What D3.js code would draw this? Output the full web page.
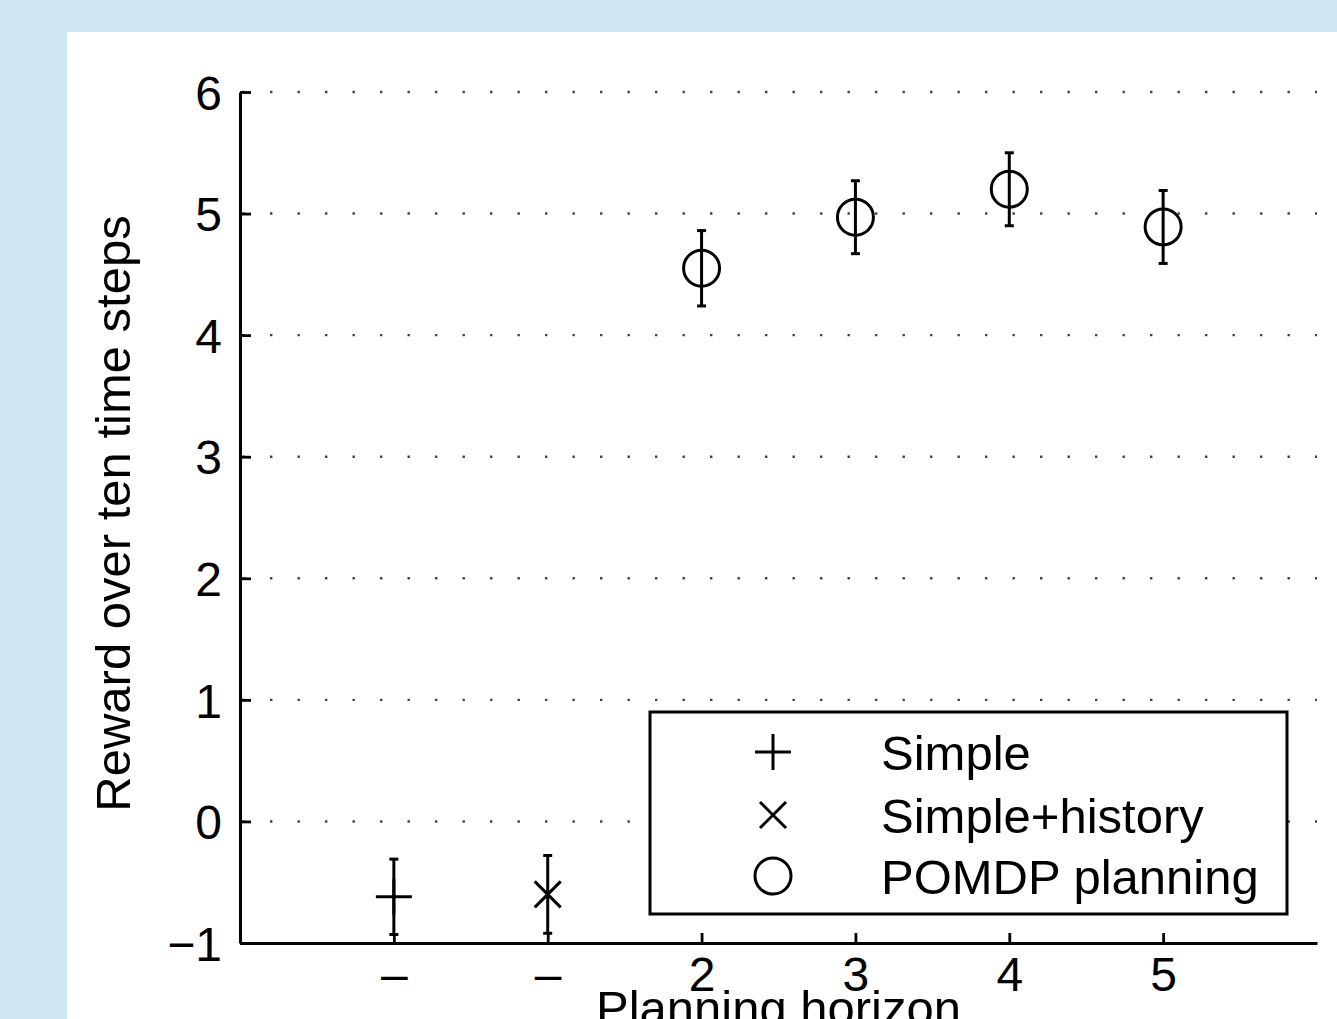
<!DOCTYPE html>
<html lang="en">
<head>
	<meta charset="UTF-8">
	<title>Reward vs planning horizon</title>
	<script src="https://cdn.jsdelivr.net/npm/d3@7"></script>
	<style>
		html, body { margin: 0; padding: 0; background: #cfe5f2; }
		text { font-family: "Liberation Sans", Arial, Helvetica, sans-serif; fill: #000; }
	</style>
</head>
<body>
	<div id="vis"></div>

	<script>
		// data
		var xLabels = ["\u2013", "\u2013", "2", "3", "4", "5"];
		var yTicks = [-1, 0, 1, 2, 3, 4, 5, 6];
		var seriesNames = ["Simple", "Simple+history", "POMDP planning"];

		var simpleX = [0];
		var simpleMean = [-0.62];
		var simpleErr = [0.31];

		var historyX = [1];
		var historyMean = [-0.60];
		var historyErr = [0.32];

		var pomdpX = [2, 3, 4, 5];
		var pomdpMean = [4.55, 4.97, 5.20, 4.89];
		var pomdpErr = [0.31, 0.30, 0.30, 0.30];

		var width = 1337;
		var height = 1019;

		// plot box (note: "top" is reserved on window, so use plot* names)
		var plotLeft = 240, plotRight = 1317, plotTop = 92, plotBottom = 943;

		var svg = d3.select("#vis").append("svg")
			.attr("width", width)
			.attr("height", height)
			.style("display", "block");

		// backdrop and white panel
		svg.append("rect").attr("width", width).attr("height", height).attr("fill", "#cfe5f2");
		svg.append("rect").attr("x", 67).attr("y", 32)
			.attr("width", width - 67).attr("height", height - 32).attr("fill", "#fff");

		var x = d3.scalePoint()
			.domain(d3.range(xLabels.length))
			.range([plotLeft, plotRight])
			.padding(1);

		var y = d3.scaleLinear()
			.domain([-1, 6])
			.range([plotBottom, plotTop]);

		// dotted grid
		svg.append("g")
			.selectAll("line")
			.data(yTicks.filter(function(d) { return d > -1; }))
			.join("line")
				.attr("x1", plotLeft)
				.attr("x2", plotRight)
				.attr("y1", function(d) { return y(d); })
				.attr("y2", function(d) { return y(d); })
				.attr("stroke", "#444")
				.attr("stroke-width", 2.4)
				.attr("stroke-dasharray", "2.4,25.1")
				.attr("stroke-dashoffset", -2.5);

		// axes
		var yAxis = svg.append("g")
			.attr("transform", "translate(" + plotLeft + ",0)")
			.call(d3.axisLeft(y).tickValues(yTicks).tickSize(-11).tickSizeOuter(0)
				.tickPadding(18)
				.tickFormat(function(d) { return d < 0 ? "\u2212" + Math.abs(d) : d; }));

		var xAxis = svg.append("g")
			.attr("transform", "translate(0," + plotBottom + ")")
			.call(d3.axisBottom(x).tickSize(-10).tickSizeOuter(0)
				.tickFormat(function(i) { return xLabels[i]; }));

		[yAxis, xAxis].forEach(function(g) {
			g.select(".domain").attr("stroke", "#000").attr("stroke-width", 3);
			g.selectAll(".tick line").attr("stroke", "#000").attr("stroke-width", 2.8);
			g.selectAll(".tick text").attr("font-size", 48).attr("fill", "#000")
				.style("font-family", "'Liberation Sans', Arial, sans-serif");
		});
		yAxis.selectAll(".tick text").attr("dy", "0.36em");
		xAxis.selectAll(".tick text").attr("y", 48).attr("dy", 0);

		// axis titles
		svg.append("text")
			.attr("transform", "translate(130," + ((plotTop + plotBottom) / 2 - 4) + ") rotate(-90)")
			.attr("text-anchor", "middle")
			.attr("font-size", 49)
			.text("Reward over ten time steps");

		svg.append("text")
			.attr("x", (plotLeft + plotRight) / 2)
			.attr("y", 1025)
			.attr("text-anchor", "middle")
			.attr("font-size", 49)
			.text("Planning horizon");

		// marker shapes
		function drawMarker(g, kind, cx, cy) {
			var s = 3;
			if (kind === 0) {
				g.append("line").attr("x1", cx - 18).attr("x2", cx + 18).attr("y1", cy).attr("y2", cy)
					.attr("stroke", "#000").attr("stroke-width", s);
				g.append("line").attr("x1", cx).attr("x2", cx).attr("y1", cy - 18).attr("y2", cy + 18)
					.attr("stroke", "#000").attr("stroke-width", s);
			} else if (kind === 1) {
				g.append("line").attr("x1", cx - 13).attr("x2", cx + 13).attr("y1", cy - 13).attr("y2", cy + 13)
					.attr("stroke", "#000").attr("stroke-width", s);
				g.append("line").attr("x1", cx - 13).attr("x2", cx + 13).attr("y1", cy + 13).attr("y2", cy - 13)
					.attr("stroke", "#000").attr("stroke-width", s);
			} else {
				g.append("circle").attr("cx", cx).attr("cy", cy).attr("r", 18)
					.attr("fill", "none").attr("stroke", "#000").attr("stroke-width", s);
			}
		}

		function drawSeries(kind, xs, means, errs) {
			var g = svg.append("g");
			xs.forEach(function(xi, i) {
				var cx = x(xi);
				var lo = y(means[i] - errs[i]);
				var hi = y(means[i] + errs[i]);
				drawMarker(g, kind, cx, y(means[i]));
				g.append("line").attr("x1", cx).attr("x2", cx).attr("y1", lo).attr("y2", hi)
					.attr("stroke", "#000").attr("stroke-width", 3);
				[lo, hi].forEach(function(yy) {
					g.append("line").attr("x1", cx - 4.5).attr("x2", cx + 4.5).attr("y1", yy).attr("y2", yy)
						.attr("stroke", "#000").attr("stroke-width", 3);
				});
			});
		}

		drawSeries(0, simpleX, simpleMean, simpleErr);
		drawSeries(1, historyX, historyMean, historyErr);
		drawSeries(2, pomdpX, pomdpMean, pomdpErr);

		// legend
		var legend = svg.append("g");
		legend.append("rect")
			.attr("x", 650).attr("y", 712)
			.attr("width", 637).attr("height", 202)
			.attr("fill", "#fff").attr("stroke", "#000").attr("stroke-width", 3);

		var rowY = [752, 815, 876];
		seriesNames.forEach(function(name, i) {
			drawMarker(legend, i, 773, rowY[i]);
			legend.append("text")
				.attr("x", 881)
				.attr("y", rowY[i])
				.attr("dy", "0.36em")
				.attr("font-size", 49)
				.text(name);
		});
	</script>
</body>
</html>
